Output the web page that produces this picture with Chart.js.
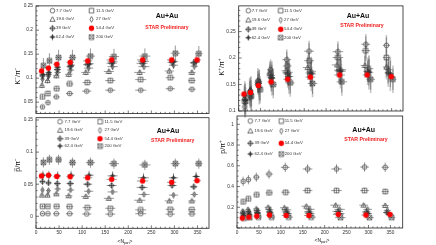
<!DOCTYPE html>
<html>
<head>
<meta charset="utf-8">
<script src="https://cdn.jsdelivr.net/npm/chart.js@4.4.1/dist/chart.umd.min.js"></script>
<style>
html, body { margin: 0; padding: 0; background: #fff; }
#wrap { position: relative; width: 436px; height: 245px; }
#wrap canvas { position: absolute; left: 0; top: 0; }
</style>
</head>
<body>
<div id="wrap">
  <canvas id="kmCanv" width="436" height="245"></canvas>
  <canvas id="kpCanv" width="436" height="245"></canvas>
  <canvas id="pbCanv" width="436" height="245"></canvas>
  <canvas id="ppCanv" width="436" height="245"></canvas>
</div>
<script>
// collision energies, same order in every panel
const energyLabels = ['7.7 GeV', '11.5 GeV', '19.6 GeV', '27 GeV', '39 GeV', '54.4 GeV', '62.4 GeV', '200 GeV'];

// <Npart> per centrality bin (peripheral -> central), one row per energy
const npart = [
  [14, 26, 44, 73, 110, 161, 227, 291, 338],
  [14, 26, 45, 73, 111, 161, 227, 291, 338],
  [13, 25, 44, 71, 108, 158, 225, 289, 338],
  [14, 27, 47, 75, 114, 166, 234, 298, 343],
  [14, 27, 46, 74, 112, 164, 230, 295, 342],
  [12, 27, 45, 74, 112, 164, 231, 294, 349],
  [15, 28, 47, 76, 115, 166, 233, 298, 347],
  [16, 29, 49, 79, 118, 169, 236, 302, 353]
];
const npartErr = [4, 5, 7, 8, 10, 11, 12, 10, 8];

// K-/pi-
const kmPim = [
  [0.040, 0.049, 0.061, 0.068, 0.073, 0.075, 0.075, 0.078, 0.077],
  [0.061, 0.068, 0.078, 0.088, 0.091, 0.095, 0.097, 0.101, 0.095],
  [0.085, 0.095, 0.105, 0.108, 0.112, 0.114, 0.112, 0.115, 0.112],
  [0.098, 0.104, 0.112, 0.117, 0.121, 0.124, 0.124, 0.127, 0.125],
  [0.105, 0.108, 0.118, 0.124, 0.128, 0.131, 0.131, 0.133, 0.132],
  [0.115, 0.121, 0.129, 0.133, 0.136, 0.138, 0.138, 0.138, 0.138],
  [0.108, 0.112, 0.123, 0.127, 0.130, 0.134, 0.135, 0.135, 0.134],
  [0.126, 0.136, 0.143, 0.143, 0.146, 0.145, 0.146, 0.152, 0.151]
];
const kmPimErr = [0.004, 0.005, 0.006, 0.007, 0.008, 0.003, 0.012, 0.016];

// K+/pi+
const kpPip = [
  [0.108, 0.125, 0.150, 0.178, 0.197, 0.213, 0.212, 0.226, 0.224],
  [0.118, 0.130, 0.155, 0.172, 0.185, 0.195, 0.201, 0.214, 0.201],
  [0.125, 0.138, 0.158, 0.170, 0.176, 0.182, 0.187, 0.186, 0.183],
  [0.128, 0.140, 0.155, 0.167, 0.173, 0.175, 0.178, 0.180, 0.178],
  [0.130, 0.138, 0.152, 0.163, 0.170, 0.172, 0.177, 0.175, 0.172],
  [0.132, 0.135, 0.148, 0.155, 0.160, 0.164, 0.168, 0.168, 0.165],
  [0.120, 0.133, 0.145, 0.162, 0.165, 0.170, 0.175, 0.173, 0.170],
  [0.118, 0.128, 0.140, 0.150, 0.153, 0.152, 0.155, 0.160, 0.160]
];
const kpPipErr = [0.015, 0.015, 0.018, 0.018, 0.02, 0.003, 0.025, 0.02];

// pbar/pi-
const pbPim = [
  [0.0040, 0.0040, 0.0040, 0.0040, 0.0036, 0.0034, 0.0040, 0.0034, 0.0036],
  [0.0156, 0.0156, 0.0156, 0.0150, 0.0135, 0.0125, 0.0100, 0.0110, 0.0104],
  [0.033, 0.033, 0.035, 0.032, 0.031, 0.028, 0.025, 0.024, 0.024],
  [0.041, 0.040, 0.0426, 0.041, 0.039, 0.038, 0.034, 0.033, 0.034],
  [0.054, 0.052, 0.051, 0.051, 0.050, 0.048, 0.045, 0.048, 0.046],
  [0.0628, 0.064, 0.062, 0.0618, 0.060, 0.0576, 0.055, 0.053, 0.0555],
  [0.064, 0.064, 0.063, 0.064, 0.064, 0.063, 0.060, 0.060, 0.062],
  [0.084, 0.088, 0.088, 0.0836, 0.0836, 0.082, 0.080, 0.082, 0.082]
];
const pbPimErr = [0.001, 0.002, 0.003, 0.003, 0.004, 0.002, 0.007, 0.008];

// p/pi+
const ppPip = [
  [0.450, 0.466, 0.490, 0.520, 0.585, 0.569, 0.569, 0.588, 0.585],
  [0.252, 0.281, 0.320, 0.339, 0.345, 0.361, 0.361, 0.361, 0.351],
  [0.163, 0.179, 0.185, 0.200, 0.195, 0.210, 0.220, 0.220, 0.217],
  [0.150, 0.160, 0.170, 0.175, 0.175, 0.180, 0.180, 0.180, 0.170],
  [0.135, 0.145, 0.150, 0.155, 0.155, 0.155, 0.160, 0.155, 0.150],
  [0.096, 0.105, 0.115, 0.125, 0.121, 0.121, 0.131, 0.125, 0.131],
  [0.120, 0.130, 0.140, 0.145, 0.140, 0.140, 0.140, 0.140, 0.135],
  [0.095, 0.100, 0.105, 0.105, 0.105, 0.105, 0.100, 0.100, 0.100]
];
const ppPipErr = [0.045, 0.025, 0.02, 0.015, 0.015, 0.006, 0.015, 0.008];

const xTickVals = [0, 50, 100, 150, 200, 250, 300, 350];

const FONT = "'Liberation Sans', Arial, sans-serif";
const INK = '#333';

// marker pictures, one per energy
function makeMarker(kind) {
  const c = document.createElement('canvas');
  c.width = 7; c.height = 7;
  const g = c.getContext('2d');
  const m = 3.5;
  g.strokeStyle = '#333';
  g.fillStyle = '#333';
  g.lineWidth = 0.7;
  g.beginPath();
  switch (kind) {
    case 0: // open circle
      g.arc(m, m, 2.3, 0, Math.PI * 2); g.stroke(); break;
    case 1: // open square
      g.rect(m - 2.3, m - 2.3, 4.6, 4.6); g.stroke(); break;
    case 2: // open triangle
      g.moveTo(m, m - 2.6); g.lineTo(m + 2.6, m + 2); g.lineTo(m - 2.6, m + 2); g.closePath(); g.stroke(); break;
    case 3: // thin diamond
      g.moveTo(m, m - 2.8); g.lineTo(m + 1.6, m); g.lineTo(m, m + 2.8); g.lineTo(m - 1.6, m); g.closePath(); g.stroke(); break;
    case 4: // circle with cross
      g.arc(m, m, 2, 0, Math.PI * 2);
      g.moveTo(m, 0.3); g.lineTo(m, 6.7); g.moveTo(0.3, m); g.lineTo(6.7, m); g.stroke(); break;
    case 5: // red dot
      g.fillStyle = '#f00'; g.arc(m, m, 2.7, 0, Math.PI * 2); g.fill(); break;
    case 6: // four point star
      g.moveTo(m, 0.2); g.lineTo(m + 0.9, m - 0.9); g.lineTo(6.8, m); g.lineTo(m + 0.9, m + 0.9);
      g.lineTo(m, 6.8); g.lineTo(m - 0.9, m + 0.9); g.lineTo(0.2, m); g.lineTo(m - 0.9, m - 0.9); g.closePath(); g.fill(); break;
    case 7: // square with x
      g.rect(m - 2.3, m - 2.3, 4.6, 4.6);
      g.moveTo(m - 2.3, m - 2.3); g.lineTo(m + 2.3, m + 2.3); g.moveTo(m + 2.3, m - 2.3); g.lineTo(m - 2.3, m + 2.3); g.stroke(); break;
  }
  return c;
}
const markers = energyLabels.map((_, i) => makeMarker(i));

// text with superscripts / bars, laid out left to right
function richWidth(ctx, parts, size) {
  let w = 0;
  parts.forEach(p => {
    ctx.font = (p.sup || p.sub ? size * 0.65 : size) + 'px ' + FONT;
    w += ctx.measureText(p.t).width;
  });
  return w;
}
function drawRich(ctx, parts, x, y, size) {
  let cx = x - richWidth(ctx, parts, size) / 2;
  parts.forEach(p => {
    const s = p.sup || p.sub ? size * 0.65 : size;
    ctx.font = s + 'px ' + FONT;
    const dy = p.sup ? -size * 0.38 : (p.sub ? size * 0.3 : 0);
    ctx.fillText(p.t, cx, y + dy);
    const w = ctx.measureText(p.t).width;
    if (p.bar) {
      ctx.fillRect(cx + w * 0.1, y - size * 0.48, w * 0.8, Math.max(0.5, size * 0.07));
    }
    cx += w;
  });
}

function makeDecor(p) {
  return {
    id: 'decor',
    beforeDatasetsDraw(chart) {
      const ctx = chart.ctx, xs = chart.scales.x, ys = chart.scales.y;
      ctx.save();
      chart.data.datasets.forEach((ds, di) => {
        const meta = chart.getDatasetMeta(di);
        meta.data.forEach((pt, i) => {
          const v = ds.data[i].y, n = ds.data[i].x, e = p.yErr[di];
          if (p.sys) {
            ctx.strokeStyle = 'rgba(150,150,150,0.55)';
            ctx.lineWidth = 1.6;
            ctx.beginPath();
            ctx.moveTo(pt.x, ys.getPixelForValue(v - e * 1.3));
            ctx.lineTo(pt.x, ys.getPixelForValue(v + e * 1.3));
            ctx.stroke();
          }
          ctx.strokeStyle = '#555';
          ctx.lineWidth = 0.6;
          ctx.beginPath();
          ctx.moveTo(pt.x, ys.getPixelForValue(v - e));
          ctx.lineTo(pt.x, ys.getPixelForValue(v + e));
          ctx.moveTo(xs.getPixelForValue(n - npartErr[i]), pt.y);
          ctx.lineTo(xs.getPixelForValue(n + npartErr[i]), pt.y);
          ctx.stroke();
        });
      });
      ctx.restore();
    },
    afterDraw(chart) {
      const ctx = chart.ctx, a = chart.chartArea, xs = chart.scales.x, ys = chart.scales.y;
      ctx.save();
      // frame
      ctx.strokeStyle = '#222';
      ctx.lineWidth = 0.8;
      ctx.strokeRect(a.left, a.top, a.right - a.left, a.bottom - a.top);
      // inner ticks
      ctx.lineWidth = 0.6;
      ctx.beginPath();
      for (let v = 0; v <= xs.max; v += 10) {
        const px = xs.getPixelForValue(v);
        const len = v % 50 === 0 ? 3 : 1.6;
        ctx.moveTo(px, a.bottom); ctx.lineTo(px, a.bottom - len);
      }
      const nMinor = Math.round((ys.max - ys.min) / p.yMinor) + 2;
      const start = Math.ceil(ys.min / p.yMinor - 1e-6);
      for (let k = start; k < start + nMinor; k++) {
        const v = k * p.yMinor;
        if (v > ys.max) break;
        const py = ys.getPixelForValue(v);
        const major = Math.abs(v / p.yMajor - Math.round(v / p.yMajor)) < 1e-6;
        ctx.moveTo(a.left, py); ctx.lineTo(a.left + (major ? 3 : 1.6), py);
      }
      ctx.stroke();

      // legend
      ctx.fillStyle = INK;
      ctx.textBaseline = 'middle';
      ctx.textAlign = 'left';
      ctx.font = '4.3px ' + FONT;
      energyLabels.forEach((lab, i) => {
        const col = i % 2, row = Math.floor(i / 2);
        const mx = p.leg.mx[col], my = p.leg.rows[row];
        ctx.drawImage(markers[i], mx - 3.5, my - 3.5);
        ctx.fillText(lab, p.leg.tx[col], my);
      });

      // Au+Au and STAR Preliminary
      ctx.textAlign = 'center';
      ctx.font = 'bold 7px ' + FONT;
      ctx.fillStyle = '#111';
      ctx.fillText('Au+Au', p.title.x, p.title.y);
      ctx.font = 'bold 5.2px ' + FONT;
      ctx.fillStyle = '#f02020';
      ctx.fillText('STAR Preliminary', p.star.x, p.star.y);

      // axis titles
      ctx.fillStyle = '#111';
      ctx.textAlign = 'left';
      ctx.save();
      ctx.translate(p.yTitle.x, p.yTitle.y);
      ctx.rotate(-Math.PI / 2);
      drawRich(ctx, p.yTitle.parts, 0, 0, 7);
      ctx.restore();
      if (p.xTitle) {
        drawRich(ctx, [{ t: '<N' }, { t: 'part', sub: true }, { t: '>' }], p.xTitle.x, p.xTitle.y, 5);
      }
      ctx.restore();
    }
  };
}

function makePanel(canvasId, p) {
  const yw = 30;
  const xh = p.xLabels ? 10 : 0;
  const datasets = energyLabels.map((lab, i) => ({
    label: lab,
    data: npart[i].map((n, j) => ({ x: n, y: p.values[i][j] })),
    pointStyle: markers[i],
    pointRadius: 3,
    showLine: false,
    order: i === 5 ? -1 : i
  }));
  return new Chart(document.getElementById(canvasId), {
    type: 'scatter',
    data: { datasets: datasets },
    options: {
      responsive: false,
      animation: false,
      events: [],
      layout: { padding: { left: p.L - yw, right: 436 - p.R, top: p.T, bottom: 245 - p.B - xh } },
      plugins: { legend: { display: false }, tooltip: { enabled: false } },
      scales: {
        x: {
          type: 'linear', min: 0, max: p.xMax,
          grid: { display: false, drawTicks: false },
          border: { display: false },
          ticks: { display: p.xLabels, font: { size: 4.8, family: FONT }, color: INK, padding: 1.5, maxRotation: 0, autoSkip: false },
          afterBuildTicks: s => { s.ticks = xTickVals.map(v => ({ value: v })); },
          afterFit: s => { s.height = xh; }
        },
        y: {
          type: 'linear', min: p.yMin, max: p.yMax,
          grid: { display: false, drawTicks: false },
          border: { display: false },
          ticks: {
            font: { size: 4.8, family: FONT }, color: INK, padding: 3, autoSkip: false,
            callback: v => String(+v.toFixed(3))
          },
          afterBuildTicks: s => { s.ticks = p.yTicks.map(v => ({ value: v })); },
          afterFit: s => { s.width = yw; }
        }
      }
    },
    plugins: [makeDecor(p)]
  });
}

makePanel('kmCanv', {
  L: 36, R: 209, T: 5, B: 113.5, xMax: 375, yMin: 0.0264, yMax: 0.2506,
  yTicks: [0.05, 0.1, 0.15, 0.2, 0.25], yMajor: 0.05, yMinor: 0.01,
  values: kmPim, yErr: kmPimErr, xLabels: false,
  leg: { mx: [52.5, 91.5], tx: [56, 96], rows: [10.7, 19.3, 28.2, 37] },
  title: { x: 167, y: 16.5 }, star: { x: 167, y: 27.3 },
  yTitle: { x: 18, y: 76, parts: [{ t: 'K' }, { t: '\u2212', sup: true }, { t: '/\u03c0' }, { t: '\u2212', sup: true }] }
});

makePanel('kpCanv', {
  L: 238.7, R: 403, T: 4.7, B: 111, xMax: 376, yMin: 0.1, yMax: 0.2985,
  yTicks: [0.1, 0.15, 0.2, 0.25], yMajor: 0.05, yMinor: 0.01,
  values: kpPip, yErr: kpPipErr, xLabels: false, sys: true,
  leg: { mx: [248.3, 280.7], tx: [251.7, 284], rows: [10.7, 20, 29.3, 37.7] },
  title: { x: 358, y: 15.7 }, star: { x: 362, y: 26 },
  yTitle: { x: 222.5, y: 67, parts: [{ t: 'K' }, { t: '+', sup: true }, { t: '/\u03c0' }, { t: '+', sup: true }] }
});

makePanel('pbCanv', {
  L: 36, R: 209, T: 117.7, B: 228.3, xMax: 375, yMin: -0.0187, yMax: 0.1536,
  yTicks: [0, 0.05, 0.1, 0.15], yMajor: 0.05, yMinor: 0.01,
  values: pbPim, yErr: pbPimErr, xLabels: true,
  leg: { mx: [60, 100], tx: [64.5, 104.5], rows: [121.7, 130.3, 138.7, 146] },
  title: { x: 168, y: 130.7 }, star: { x: 172.7, y: 140.7 },
  yTitle: { x: 18, y: 165, parts: [{ t: 'p', bar: true }, { t: '/\u03c0' }, { t: '\u2212', sup: true }] },
  xTitle: { x: 125, y: 241.5 }
});

makePanel('ppCanv', {
  L: 237, R: 402.7, T: 116, B: 228, xMax: 378, yMin: 0, yMax: 1.08,
  yTicks: [0.2, 0.4, 0.6, 0.8, 1], yMajor: 0.2, yMinor: 0.05,
  values: ppPip, yErr: ppPipErr, xLabels: true,
  leg: { mx: [250.3, 281.3], tx: [254.5, 284.7], rows: [121, 131, 143.3, 154] },
  title: { x: 363.7, y: 130 }, star: { x: 366, y: 140 },
  yTitle: { x: 223, y: 147, parts: [{ t: 'p' }, { t: '/\u03c0' }, { t: '+', sup: true }] },
  xTitle: { x: 322, y: 240.5 }
});
</script>
</body>
</html>
